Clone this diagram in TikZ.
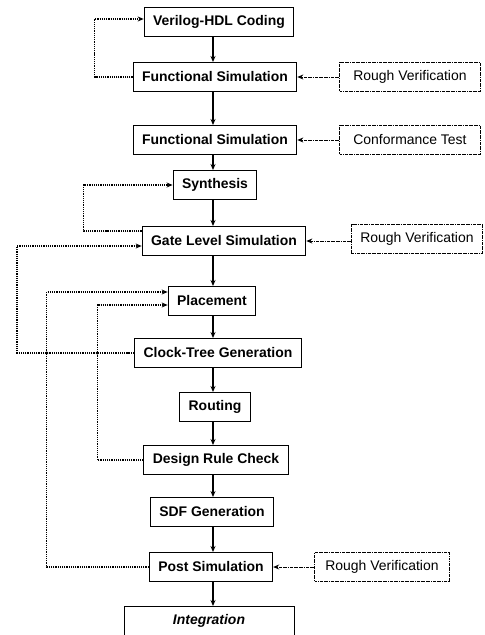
\documentclass[tikz,border=0pt]{standalone}
\usepackage{fontspec}
\setmainfont{Liberation Sans}
\usepackage{tikz}
\usetikzlibrary{arrows.meta,positioning,calc}

\begin{document}
\begin{tikzpicture}[x=1bp, y=-1bp,
    stage/.style={draw, line width=1bp, inner xsep=9bp, inner ysep=0pt, minimum height=29bp, font=\fontsize{14}{16}\selectfont\bfseries},
    checkbox/.style={draw, densely dash dot, line width=0.8bp, minimum width=141bp, minimum height=29bp, font=\fontsize{14}{16}\selectfont},
    flow/.style={line width=1.3bp, -{Stealth[length=6bp,width=5bp]}},
    loopback/.style={densely dotted, line width=1.2bp, -{Stealth[length=6bp,width=5bp]}},
    checkarrow/.style={densely dash dot, line width=0.8bp, -{Stealth[length=6bp,width=5bp]}}]
    \useasboundingbox (0,0) rectangle (485,635);
    % Main design flow
    \coordinate (spine) at (213,0);
    \node[stage] (verilog) at (219,22) {Verilog-HDL Coding};
    \node[stage] (func1) at (215,77) {Functional Simulation};
    \node[stage] (func2) at (215,140) {Functional Simulation};
    \node[stage] (synth) at (215,185) {Synthesis};
    \node[stage] (gate) at (224,241) {Gate Level Simulation};
    \node[stage] (place) at (212,301) {Placement};
    \node[stage] (clock) at (218,353) {Clock-Tree Generation};
    \node[stage] (routing) at (215,407) {Routing};
    \node[stage] (drc) at (216,460) {Design Rule Check};
    \node[stage] (sdf) at (212,512) {SDF Generation};
    \node[stage] (post) at (211,567) {Post Simulation};
    \node[stage, minimum width=170bp, font=\fontsize{14}{16}\selectfont\bfseries\itshape] (integ) at (209,621) {Integration};
    \foreach \a/\b in {verilog/func1, func1/func2, func2/synth, synth/gate, gate/place, place/clock, clock/routing, routing/drc, drc/sdf, sdf/post, post/integ} {
      \draw[flow] (\a.south -| spine) -- (\b.north -| spine);
    }
    % Verification inputs (dash-dotted)
    \node[checkbox] (rough1) at (410,77) {Rough Verification};
    \node[checkbox] (conf) at (410,140) {Conformance Test};
    \node[checkbox, minimum width=131bp] (rough2) at (417,239) {Rough Verification};
    \node[checkbox, minimum width=135bp] (rough3) at (382,567) {Rough Verification};
    \draw[checkarrow] (rough1.west) -- (func1.east);
    \draw[checkarrow] (conf.west) -- (func2.east);
    \draw[checkarrow] (rough2.west |- gate.east) -- (gate.east);
    \draw[checkarrow] (rough3.west) -- (post.east);
    % Feedback loops (dotted)
    \draw[loopback] (func1.west) -- ++(-38,0) |- ([yshift=3bp]verilog.west);
    \draw[loopback] ([yshift=10bp]gate.west) -- ++(-58,0) |- (synth.west);
    \draw[loopback] (clock.west) -- ++(-117,0) |- ([yshift=-5bp]gate.west);
    \draw[loopback] (post.west) -- ++(-102,0) coordinate (postbend) |- ([yshift=9bp]place.west);
    \draw[loopback] (drc.west) -- ++(-46,0) coordinate (drcbend) |- ([yshift=-4bp]place.west);
    % crossing marks on the clock-tree line
    \fill (postbend |- clock.west) circle (1.6bp);
    \fill (drcbend |- clock.west) circle (1.6bp);
\end{tikzpicture}
\end{document}
